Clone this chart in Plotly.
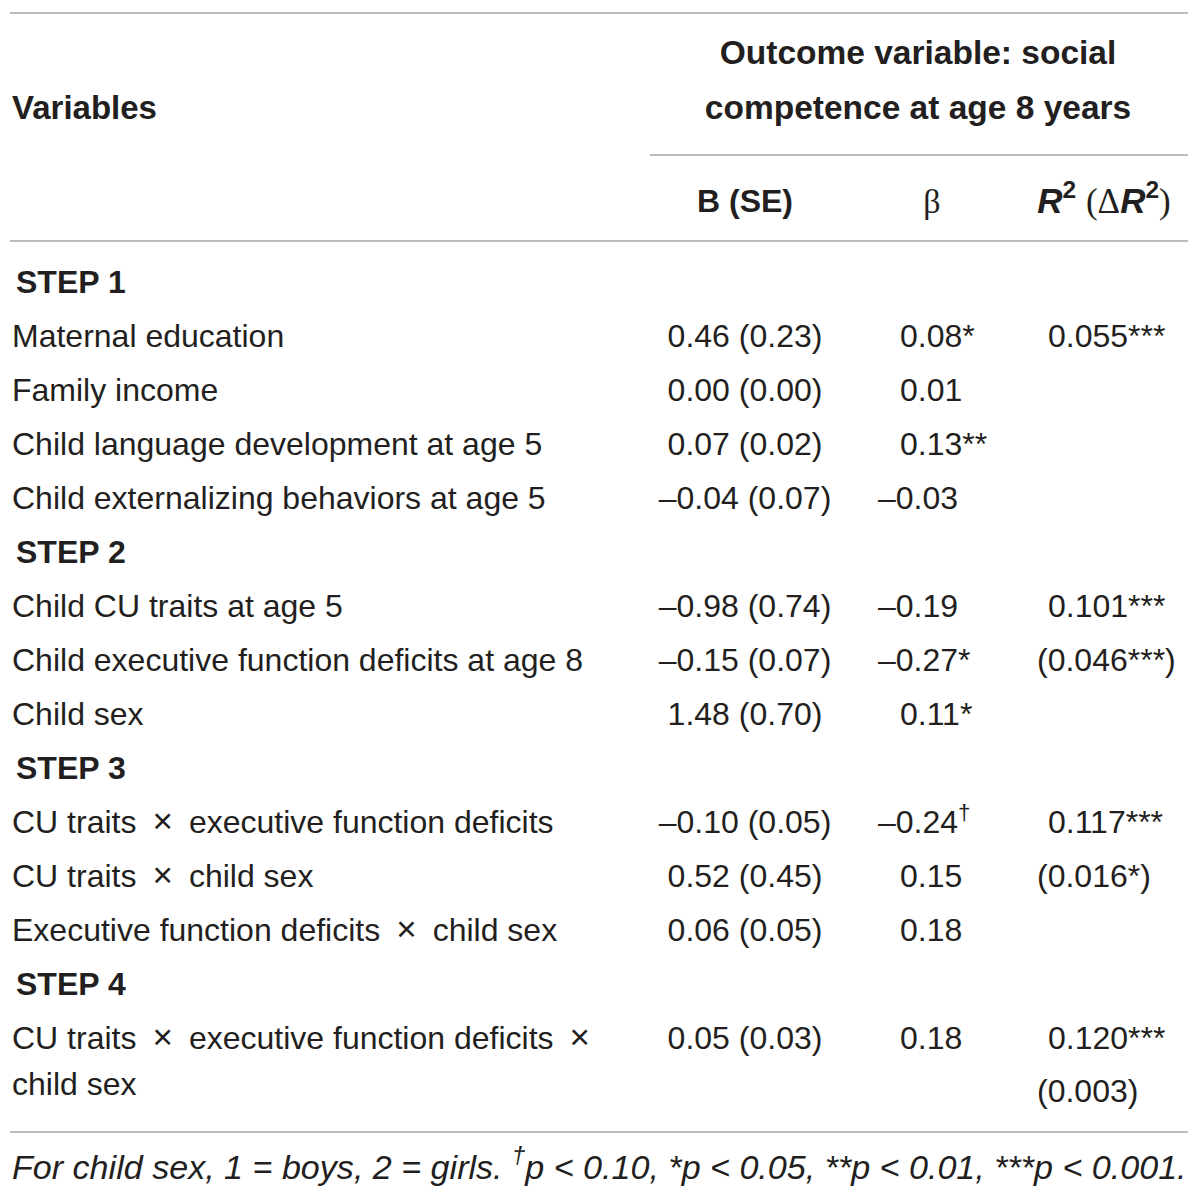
import plotly.graph_objects as go

# ---------------- data ----------------
TIMES = "\u2002<span style='font-size:35px'>×</span>\u2002"
row_labels = [
    "STEP 1",
    "Maternal education",
    "Family income",
    "Child language development at age 5",
    "Child externalizing behaviors at age 5",
    "STEP 2",
    "Child CU traits at age 5",
    "Child executive function deficits at age 8",
    "Child sex",
    "STEP 3",
    "CU traits" + TIMES + "executive function deficits",
    "CU traits" + TIMES + "child sex",
    "Executive function deficits" + TIMES + "child sex",
    "STEP 4",
    "CU traits" + TIMES + "executive function deficits" + TIMES,
]
label_continuation = "child sex"

b_se = ["", "0.46 (0.23)", "0.00 (0.00)", "0.07 (0.02)", "–0.04 (0.07)",
        "", "–0.98 (0.74)", "–0.15 (0.07)", "1.48 (0.70)",
        "", "–0.10 (0.05)", "0.52 (0.45)", "0.06 (0.05)",
        "", "0.05 (0.03)"]
beta = ["", "0.08*", "0.01", "0.13**", "–0.03",
        "", "–0.19", "–0.27*", "0.11*",
        "", "–0.24<sup>†</sup>", "0.15", "0.18",
        "", "0.18"]
r2 = ["", "0.055***", "", "", "",
      "", "0.101***", "(0.046***)", "",
      "", "0.117***", "(0.016*)", "",
      "", "0.120***"]
r2_continuation = "(0.003)"

header_left = "Variables"
header_top = ["Outcome variable: social", "competence at age 8 years"]
col_heads = ["B (SE)", "β"]
footnote = ("For child sex, 1 = boys, 2 = girls. <sup>†</sup>p < 0.10, *p < 0.05, "
            "**p < 0.01, ***p < 0.001.")

# ---------------- layout constants ----------------
W = H = 1200
FS = 32
SANS = "Liberation Sans, Arial, sans-serif"
SERIF = "Liberation Serif, Times New Roman, serif"
INK = "#231f20"
RULE = "#bdbdbd"

X_LABEL = 12
X_STEP = 16
X_B = 745
X_BETA = 900
X_R2 = 1048
X_HEAD_TOP = 918
DASH_W = 22
PAREN_W = 11
DY = 3

Y_ROW0 = 282
ROW_H = 54


def row_y(i):
    return Y_ROW0 + ROW_H * i + DY


fig = go.Figure()


def add_text(xs, ys, texts, pos, family=SANS, size=FS):
    fig.add_trace(go.Scatter(
        x=xs, y=ys, text=texts, mode="text", textposition=pos,
        textfont=dict(family=family, size=size, color=INK),
        hoverinfo="skip", showlegend=False, cliponaxis=False))


n = len(row_labels)

# labels
steps = [i for i, s in enumerate(row_labels) if s.startswith("STEP")]
plain = [i for i in range(n) if i not in steps]
add_text([X_STEP] * len(steps), [row_y(i) for i in steps],
         [f"<b>{row_labels[i]}</b>" for i in steps], "middle right")
add_text([X_LABEL] * len(plain) + [X_LABEL],
         [row_y(i) for i in plain] + [row_y(n - 1) + 46],
         [row_labels[i] for i in plain] + [label_continuation], "middle right")

# B (SE)
bi = [i for i in range(n) if b_se[i]]
add_text([X_B] * len(bi), [row_y(i) for i in bi], [b_se[i] for i in bi],
         "middle center")

# beta
be = [i for i in range(n) if beta[i]]
add_text([X_BETA - (DASH_W if beta[i].startswith("–") else 0) for i in be],
         [row_y(i) for i in be], [beta[i] for i in be], "middle right")

# R2
ri = [i for i in range(n) if r2[i]]
add_text([X_R2 - (PAREN_W if r2[i].startswith("(") else 0) for i in ri] + [X_R2 - PAREN_W],
         [row_y(i) for i in ri] + [row_y(n - 1) + 53],
         [r2[i] for i in ri] + [r2_continuation], "middle right")

# headers
add_text([X_LABEL], [108 + DY], [f"<b>{header_left}</b>"], "middle right", size=33)
add_text([X_HEAD_TOP, X_HEAD_TOP], [53 + DY, 108 + DY],
         [f"<b>{t}</b>" for t in header_top], "middle center", size=33.5)
add_text([X_B], [201 + DY], [f"<b>{col_heads[0]}</b>"], "middle center")
add_text([932], [201 + DY], [col_heads[1]], "middle center", family=SERIF, size=34)
r2_head = (f"<b><i>R</i><sup>2</sup></b> "
           f"<span style='font-family:{SERIF}'>(Δ</span>"
           f"<b><i>R</i><sup>2</sup></b>"
           f"<span style='font-family:{SERIF}'>)</span>")
add_text([1104], [201 + DY], [r2_head], "middle center", size=35)

# footnote
add_text([X_LABEL], [1167 + DY], [f"<i>{footnote}</i>"], "middle right", size=34.1)

# rules
rules = [
    (10, 1188, 13),
    (650, 1188, 155),
    (10, 1188, 241),
    (10, 1188, 1132),
]
for x0, x1, y in rules:
    fig.add_shape(type="line", x0=x0, x1=x1, y0=y, y1=y, xref="x", yref="y",
                  line=dict(color=RULE, width=2))

fig.update_layout(
    width=W, height=H, margin=dict(l=0, r=0, t=0, b=0),
    paper_bgcolor="white", plot_bgcolor="white",
    xaxis=dict(range=[0, W], visible=False, fixedrange=True),
    yaxis=dict(range=[H, 0], visible=False, fixedrange=True),
)

fig.write_html("out.html", config={"displayModeBar": False},
               post_script="document.body.style.margin='0';document.body.style.overflow='hidden';")
